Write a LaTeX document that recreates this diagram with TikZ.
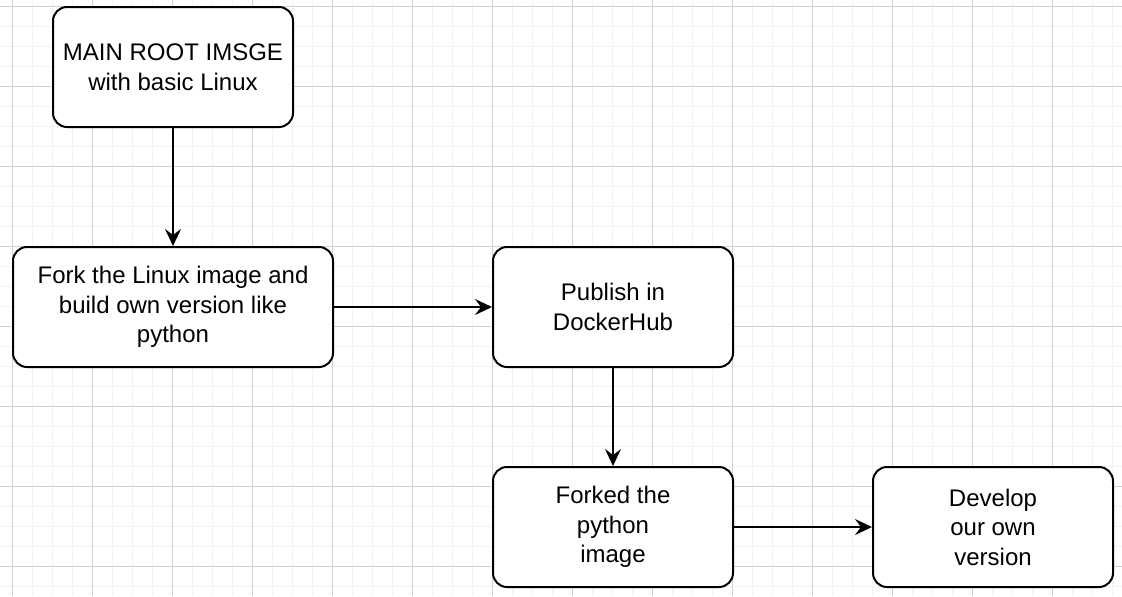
\documentclass[tikz,border=0pt]{standalone}
\usepackage{fontspec}
\setmainfont{Liberation Sans}
\usetikzlibrary{arrows.meta}
\definecolor{gridminor}{HTML}{F2F2F2}
\definecolor{gridmajor}{HTML}{D0D0D0}
\begin{document}
\begin{tikzpicture}[x=0.5pt,y=-0.5pt,
    minorline/.style={gridminor,line width=0.5pt},
    majorline/.style={gridmajor,line width=0.5pt},
    stagebox/.style={draw,fill=white,line width=1pt,rounded corners=7pt,
      align=center,inner sep=0pt,minimum height=60pt,
      font=\fontsize{12}{14.75}\selectfont},
    flow/.style={-{Stealth[length=8.5pt,width=8pt,inset=3pt]},line width=1pt}]
  \useasboundingbox[fill=white] (0,0) rectangle (1122,596);
  \foreach \gx in {12.5,32.5,...,1112.5} \draw[minorline] (\gx,0)--(\gx,596);
  \foreach \gy in {6.5,26.5,...,586.5} \draw[minorline] (0,\gy)--(1122,\gy);
  \foreach \gx in {12.5,92.5,...,1052.5} \draw[majorline] (\gx,0)--(\gx,596);
  \foreach \gy in {6.5,86.5,...,566.5} \draw[majorline] (0,\gy)--(1122,\gy);
  \node[stagebox,minimum width=120pt] (root) at (173,67) {MAIN ROOT IMSGE\\with basic Linux};
  \node[stagebox,minimum width=160pt] (fork) at (173,307) {Fork the Linux image and\\build own version like\\python};
  \node[stagebox,minimum width=120pt] (hub) at (613,307) {Publish in\\DockerHub};
  \node[stagebox,minimum width=120pt] (forked) at (613,527) {Forked the\\python\\image};
  \node[stagebox,minimum width=120pt] (own) at (993,527) {Develop\\our own\\version};
  \draw[flow] (root)--(fork);
  \draw[flow] (fork)--(hub);
  \draw[flow] (hub)--(forked);
  \draw[flow] (forked)--(own);
\end{tikzpicture}
\end{document}
